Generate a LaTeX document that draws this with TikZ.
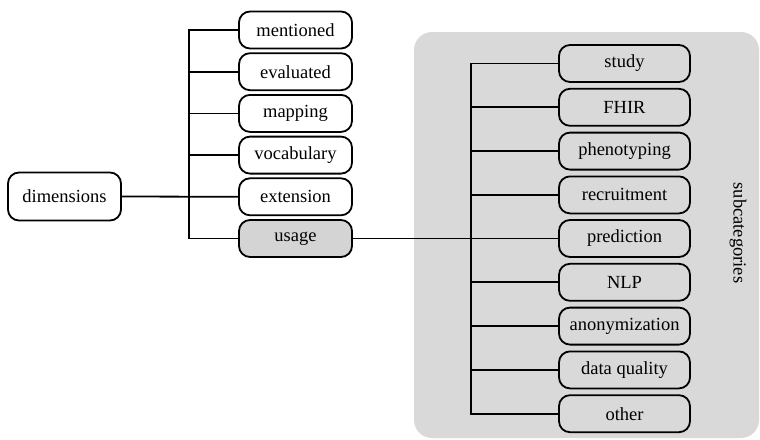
\documentclass[tikz,border=0pt]{standalone}
\usepackage{fontspec}
\setmainfont{Liberation Serif}
\definecolor{panelgray}{RGB}{217,217,217}
\definecolor{usagegray}{RGB}{212,212,212}
\tikzset{
  dimbox/.style={draw, line width=1.8pt, rounded corners=11pt, minimum width=113pt,
    minimum height=37pt, inner sep=0pt, font=\fontsize{18.5}{20}\selectfont},
  subbox/.style={dimbox, minimum width=131pt},
  bus/.style={line width=1.8pt}
}
\begin{document}
\begin{tikzpicture}[x=1pt,y=-1pt]
\useasboundingbox (0,0) rectangle (760,439);
% Subcategory panel
\fill[panelgray, rounded corners=18pt] (414,32) rectangle (759,438);
\node[rotate=-90, font=\fontsize{18.5}{20}\selectfont] (subcat) at (738,233) {subcategories};
% Root and dimensions
\node[dimbox, minimum height=48pt] (dimensions) at (64.5,196.5) {dimensions};
\node[dimbox] (mentioned) at (295.5,30) {mentioned};
\node[dimbox] (evaluated) at (295.5,71.7) {evaluated};
\node[dimbox] (mapping) at (295.5,113.4) {mapping};
\node[dimbox] (vocabulary) at (295.5,155.1) {vocabulary};
\node[dimbox] (extension) at (295.5,196.8) {extension};
\node[dimbox, fill=usagegray] (usage) at (295.5,238.5) {usage};
% Subcategories of usage
\node[subbox] (study) at (624.5,63.5) {study};
\node[subbox] (fhir) at (624.5,107.3) {FHIR};
\node[subbox] (phenotyping) at (624.5,151.1) {phenotyping};
\node[subbox] (recruitment) at (624.5,194.9) {recruitment};
\node[subbox] (prediction) at (624.5,238.5) {prediction};
\node[subbox] (nlp) at (624.5,282.3) {NLP};
\node[subbox] (anonymization) at (624.5,326.1) {anonymization};
\node[subbox] (dataquality) at (624.5,369.9) {data quality};
\node[subbox] (other) at (624.5,413.7) {other};
% Left tree
\coordinate (lbus) at (189,238.5);
\draw[bus] (mentioned.west) -| (lbus) -- (usage.west);
\draw[bus] (evaluated.west) -- (evaluated.west -| lbus);
\draw[bus] (mapping.west) -- (mapping.west -| lbus);
\draw[bus] (vocabulary.west) -- (vocabulary.west -| lbus);
\draw[bus] (dimensions.east) -- (extension.west);
% Right tree
\coordinate (rbus) at (471,413.7);
\draw[bus] (study.west) -| (rbus) -- (other.west);
\draw[bus] (fhir.west) -- (fhir.west -| rbus);
\draw[bus] (phenotyping.west) -- (phenotyping.west -| rbus);
\draw[bus] (recruitment.west) -- (recruitment.west -| rbus);
\draw[bus] (nlp.west) -- (nlp.west -| rbus);
\draw[bus] (anonymization.west) -- (anonymization.west -| rbus);
\draw[bus] (dataquality.west) -- (dataquality.west -| rbus);
\draw[bus] (usage.east) -- (prediction.west);
\end{tikzpicture}
\end{document}
